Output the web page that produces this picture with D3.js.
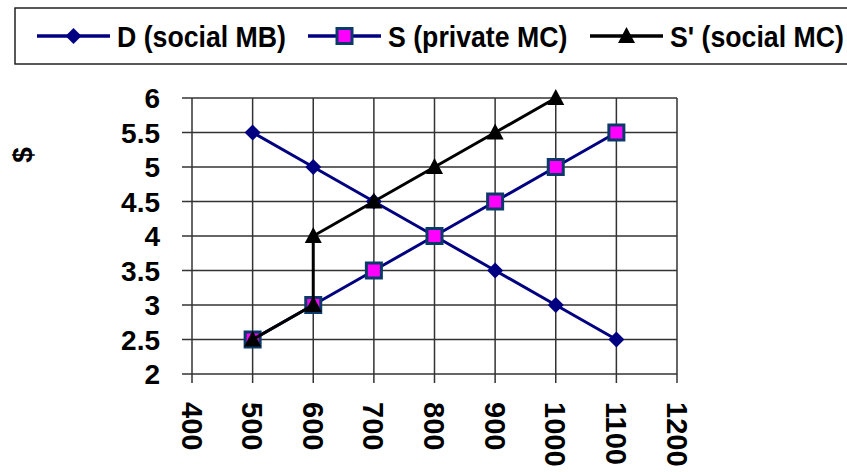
<!DOCTYPE html>
<html>
<head>
<meta charset="utf-8">
<script src="https://cdn.jsdelivr.net/npm/d3@7"></script>
<style>
html,body{margin:0;padding:0;background:#fff;}
svg{display:block;}
text{font-family:"Liberation Sans",Arial,sans-serif;font-weight:bold;fill:#000;}
</style>
</head>
<body>
<svg id="chart" width="847" height="472"></svg>
<script>
const xTicks = [400, 500, 600, 700, 800, 900, 1000, 1100, 1200];
const yTicks = [2, 2.5, 3, 3.5, 4, 4.5, 5, 5.5, 6];
const seriesNames = ["D (social MB)", "S (private MC)", "S' (social MC)"];
const dX = [500, 600, 700, 800, 900, 1000, 1100];
const dY = [5.5, 5, 4.5, 4, 3.5, 3, 2.5];
const sX = [500, 600, 700, 800, 900, 1000, 1100];
const sY = [2.5, 3, 3.5, 4, 4.5, 5, 5.5];
const s2X = [500, 600, 600, 700, 800, 900, 1000];
const s2Y = [2.5, 3, 4, 4.5, 5, 5.5, 6];
const yTitle = "$";

const svg = d3.select("#chart");
const x = d3.scaleLinear().domain([400, 1200]).range([192, 677]);
const y = d3.scaleLinear().domain([2, 6]).range([374, 98]);
const gridColor = "#333";

// grid
const g = svg.append("g");
g.selectAll("line.v").data(xTicks).enter().append("line")
  .attr("x1", d => x(d)).attr("x2", d => x(d))
  .attr("y1", y(6)).attr("y2", y(2) + 9)
  .attr("stroke", gridColor).attr("stroke-width", 1.5);
g.selectAll("line.h").data(yTicks).enter().append("line")
  .attr("x1", x(400) - 10).attr("x2", x(1200))
  .attr("y1", d => y(d)).attr("y2", d => y(d))
  .attr("stroke", gridColor).attr("stroke-width", 1.5);

// y tick labels
g.selectAll("text.yl").data(yTicks).enter().append("text")
  .attr("transform", d => `translate(160,${y(d)})`)
  .attr("dy", "0.36em")
  .attr("text-anchor", "end").attr("font-size", 28)
  .text(d => d);

// x tick labels rotated
g.selectAll("text.xl").data(xTicks).enter().append("text")
  .attr("transform", d => `translate(${x(d)},402) rotate(90)`)
  .attr("dy", "0.36em").attr("text-anchor", "start").attr("font-size", 29)
  .text(d => d);

// y title
svg.append("text").attr("transform", "translate(22,155) rotate(-90)")
  .attr("dy", "0.36em").attr("text-anchor", "middle").attr("font-size", 28)
  .text(yTitle);

const line = d3.line().x(d => x(d[0])).y(d => y(d[1]));
const dData = dX.map((v, i) => [v, dY[i]]);
const sData = sX.map((v, i) => [v, sY[i]]);
const s2Data = s2X.map((v, i) => [v, s2Y[i]]);

const navy = "#000080";
const sqBorder = "#0a3a6a";

function diamond(sel, cx, cy) {
  sel.append("path").attr("d", `M${cx},${cy-8}L${cx+8},${cy}L${cx},${cy+8}L${cx-8},${cy}Z`)
    .attr("fill", navy);
}
function square(sel, cx, cy) {
  sel.append("rect").attr("x", cx - 7.5).attr("y", cy - 7.5).attr("width", 15).attr("height", 15)
    .attr("fill", "#ff00ff").attr("stroke", sqBorder).attr("stroke-width", 3);
}
function triangle(sel, cx, cy) {
  sel.append("path").attr("d", `M${cx},${cy-9}L${cx+8.5},${cy+7}L${cx-8.5},${cy+7}Z`)
    .attr("fill", "#000");
}

const plot = svg.append("g");
plot.append("path").datum(dData).attr("d", line).attr("fill", "none").attr("stroke", navy).attr("stroke-width", 3);
plot.append("path").datum(sData).attr("d", line).attr("fill", "none").attr("stroke", navy).attr("stroke-width", 3);
dData.forEach(d => diamond(plot, x(d[0]), y(d[1])));
sData.forEach(d => square(plot, x(d[0]), y(d[1])));
plot.append("path").datum(s2Data).attr("d", line).attr("fill", "none").attr("stroke", "#000").attr("stroke-width", 3);
s2Data.forEach(d => triangle(plot, x(d[0]), y(d[1])));

// legend
const leg = svg.append("g");
leg.append("rect").attr("x", 15).attr("y", 8).attr("width", 860).attr("height", 56)
  .attr("fill", "#fff").attr("stroke", "#222").attr("stroke-width", 1.5);
const legItems = [
  {x0: 37, x1: 110, tx: 117, color: navy, marker: diamond},
  {x0: 308, x1: 381, tx: 388, color: navy, marker: square},
  {x0: 590, x1: 663, tx: 670, color: "#000", marker: triangle}
];
legItems.forEach((it, i) => {
  leg.append("line").attr("x1", it.x0).attr("x2", it.x1).attr("y1", 36).attr("y2", 36)
    .attr("stroke", it.color).attr("stroke-width", 3.5);
  it.marker(leg, (it.x0 + it.x1) / 2, 36);
  leg.append("text").attr("transform", `translate(${it.tx},36) scale(0.89,1)`)
    .attr("dy", "0.36em")
    .attr("font-size", 30).text(seriesNames[i]);
});
</script>
</body>
</html>
